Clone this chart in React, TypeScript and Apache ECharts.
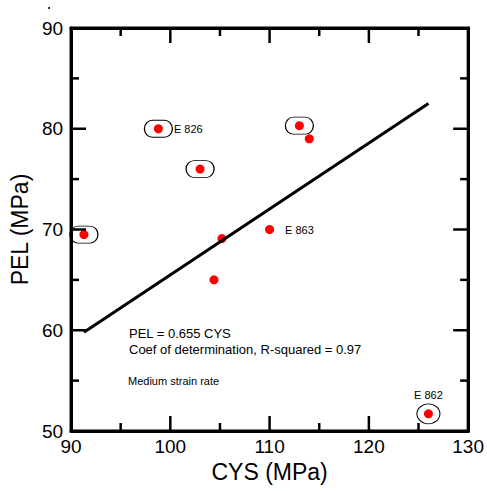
import React, { useEffect, useRef } from "react";
import * as echarts from "echarts";

const cysValues = [91.3, 98.8, 103.0, 105.2, 104.4, 110.0, 113.0, 114.0, 126.0];
const pelValues = [69.5, 80.0, 76.0, 69.1, 65.0, 70.0, 80.3, 79.0, 51.7];
const pointLabels = ["", "E 826", "", "", "", "E 863", "", "", "E 862"];
const circledIdx = [0, 1, 2, 6];
const ellipseIdx = [8];
const fitX = [91.3, 126.0];
const fitY = [59.8, 82.5];
const xTicks = [90, 100, 110, 120, 130];
const yTicks = [50, 60, 70, 80, 90];
const xMinorTicks = [95, 105, 115, 125];
const yMinorTicks = [55, 65, 75, 85];

const FONT = 'Arial, "Liberation Sans", sans-serif';
const INK = "#000000";
const STADIUM = "path://M8 0H20A8 8 0 0 1 20 16H8A8 8 0 0 1 8 0Z";
const ELLIPSE = "path://M0 10A10 10 0 1 1 20 10A10 10 0 1 1 0 10Z";

function axisBase(ticks: number[]) {
  return {
    type: "value",
    min: ticks[0],
    max: ticks[ticks.length - 1],
    interval: 10,
    axisLine: { show: true, lineStyle: { color: INK, width: 3 } },
    axisTick: { show: false },
    minorTick: { show: false },
    splitLine: { show: false },
  };
}

export default function App() {
  const ref = useRef<HTMLDivElement>(null);
  useEffect(() => {
    document.body.style.margin = "0";
    if (!ref.current) return;
    const chart = echarts.init(ref.current, null, { renderer: "svg" });
    const outlineData = [
      ...circledIdx.map((i) => ({ value: [cysValues[i], pelValues[i]], symbol: STADIUM, symbolSize: [28, 17] })),
      ...ellipseIdx.map((i) => ({ value: [cysValues[i], pelValues[i]], symbol: ELLIPSE, symbolSize: [23, 20] })),
    ];
    const pointData = cysValues.map((x, i) => {
      const lab = pointLabels[i];
      const item: any = { value: [x, pelValues[i]] };
      if (lab) {
        item.label = {
          show: true,
          formatter: lab,
          position: i === 8 ? "top" : "right",
          distance: i === 8 ? 9 : 11,
          fontSize: 11,
          fontFamily: FONT,
          color: "#000",
        };
      }
      return item;
    });
    const textGraphics: any[] = [
      { type: "circle", shape: { cx: 49, cy: 8, r: 1 }, style: { fill: "#000" } },
      {
        type: "text",
        x: 129,
        y: 333,
        style: { text: "PEL = 0.655 CYS", fontSize: 13, fontFamily: FONT, fill: "#000", verticalAlign: "middle" },
      },
      {
        type: "text",
        x: 129,
        y: 349,
        style: {
          text: "Coef of determination, R-squared = 0.97",
          fontSize: 13,
          fontFamily: FONT,
          fill: "#000",
          verticalAlign: "middle",
        },
      },
      {
        type: "text",
        x: 128,
        y: 381,
        style: { text: "Medium strain rate", fontSize: 11, fontFamily: FONT, fill: "#000", verticalAlign: "middle" },
      },
    ];
    chart.setOption({
      animation: false,
      grid: { left: 71, top: 28, right: 17, bottom: 60 },
      xAxis: [
        {
          ...axisBase(xTicks),
          position: "bottom",
          name: "CYS (MPa)",
          nameLocation: "middle",
          nameGap: 27,
          nameTextStyle: { fontSize: 23, fontFamily: FONT, color: "#000" },
          axisLabel: { fontSize: 19, fontFamily: FONT, color: "#000", margin: 6 },
        },
        { ...axisBase(xTicks), position: "top", axisLabel: { show: false } },
      ],
      yAxis: [
        {
          ...axisBase(yTicks),
          position: "left",
          name: "PEL (MPa)",
          nameLocation: "middle",
          nameGap: 38,
          nameTextStyle: { fontSize: 23, fontFamily: FONT, color: "#000" },
          axisLabel: { fontSize: 19, fontFamily: FONT, color: "#000", margin: 8 },
        },
        { ...axisBase(yTicks), position: "right", axisLabel: { show: false } },
      ],
      series: [
        {
          type: "line",
          data: fitX.map((x, i) => [x, fitY[i]]),
          showSymbol: false,
          lineStyle: { color: "#000", width: 3 },
        },
        {
          type: "scatter",
          data: outlineData,
          itemStyle: { color: "rgba(0,0,0,0)", borderColor: "#000", borderWidth: 1, opacity: 1 },
        },
        {
          type: "scatter",
          data: pointData,
          symbol: "circle",
          symbolSize: 9,
          itemStyle: { color: "#ff0000", opacity: 1 },
        },
      ],
      graphic: textGraphics,
    });

    // Frame and ticks positioned through the chart's own scales
    const finder = { xAxisIndex: 0, yAxisIndex: 0 };
    const xMin = xTicks[0];
    const xMax = xTicks[xTicks.length - 1];
    const yMin = yTicks[0];
    const yMax = yTicks[yTicks.length - 1];
    const pMin = chart.convertToPixel(finder, [xMin, yMin]) as number[];
    const pMax = chart.convertToPixel(finder, [xMax, yMax]) as number[];
    const left = pMin[0];
    const bottom = pMin[1];
    const right = pMax[0];
    const top = pMax[1];
    const tickStyle = { stroke: INK, lineWidth: 2.5 };
    const tickGraphics: any[] = [];
    const addX = (v: number, len: number) => {
      const px = (chart.convertToPixel(finder, [v, yMin]) as number[])[0];
      tickGraphics.push({ type: "line", z: 50, shape: { x1: px, y1: bottom, x2: px, y2: bottom - len }, style: tickStyle });
      tickGraphics.push({ type: "line", z: 50, shape: { x1: px, y1: top, x2: px, y2: top + len }, style: tickStyle });
    };
    const addY = (v: number, len: number) => {
      const py = (chart.convertToPixel(finder, [xMin, v]) as number[])[1];
      tickGraphics.push({ type: "line", z: 50, shape: { x1: left, y1: py, x2: left + len, y2: py }, style: tickStyle });
      tickGraphics.push({ type: "line", z: 50, shape: { x1: right, y1: py, x2: right - len, y2: py }, style: tickStyle });
    };
    xTicks.slice(1, -1).forEach((v) => addX(v, 15));
    xMinorTicks.forEach((v) => addX(v, 8));
    yTicks.slice(1, -1).forEach((v) => addY(v, 15));
    yMinorTicks.forEach((v) => addY(v, 8));
    const frame = {
      type: "rect",
      z: 50,
      shape: { x: left, y: top, width: right - left, height: bottom - top },
      style: { fill: "none", stroke: INK, lineWidth: 3 },
    };
    chart.setOption({ graphic: [...textGraphics, frame, ...tickGraphics] });
    return () => chart.dispose();
  }, []);
  return <div ref={ref} style={{ width: 487, height: 491 }} />;
}
